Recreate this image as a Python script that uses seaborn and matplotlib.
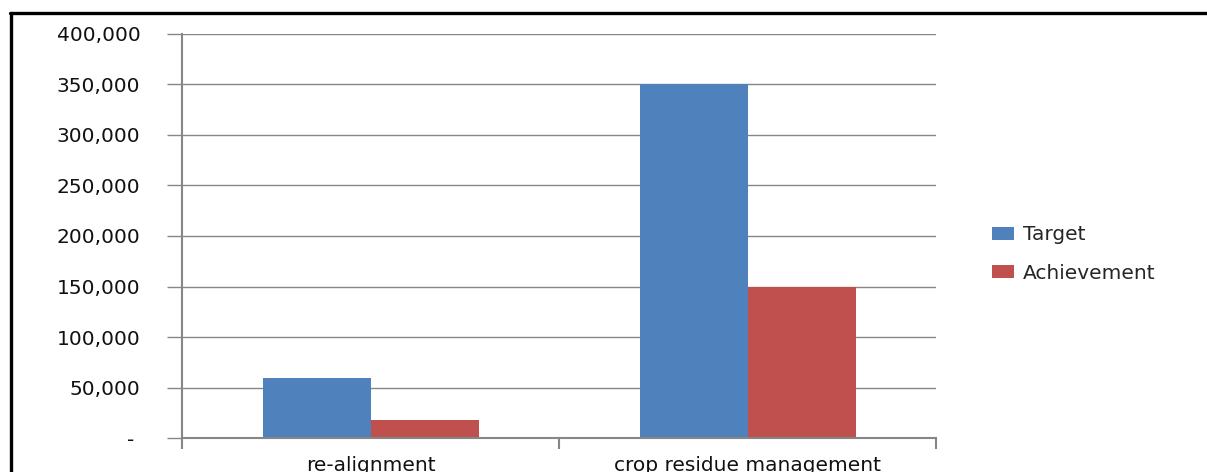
import matplotlib
matplotlib.use("Agg")
import matplotlib.pyplot as plt
from matplotlib.lines import Line2D
from matplotlib.ticker import FuncFormatter, MultipleLocator
import pandas as pd
import seaborn as sns

# Programme components and their physical progress
categories = ["re-alignment", "crop residue management"]
series_names = ["Target", "Achievement"]
target = [59500, 350000]
achievement = [18000, 150000]
colors = ["#4F81BD", "#C0504D"]

df = pd.DataFrame({
    "component": categories * 2,
    "series": [series_names[0]] * len(categories) + [series_names[1]] * len(categories),
    "value": target + achievement,
})

sns.set_theme(style="white")
plt.rcParams["font.family"] = ["DejaVu Sans"]

grid_color = "#868686"
fs = 14.5

fig = plt.figure(figsize=(12.07, 4.72), dpi=100)
ax = fig.add_axes([0.1508, 0.0720, 0.7755 - 0.1508, 0.928 - 0.0720])

sns.barplot(data=df, x="component", y="value", hue="series",
            palette=colors, width=0.573, gap=0, saturation=1,
            linewidth=0, ax=ax, legend=False)

ax.set_ylim(0, 400000)
ax.set_xlim(-0.5, 1.5)
ax.yaxis.set_major_locator(MultipleLocator(50000))
ax.yaxis.set_major_formatter(
    FuncFormatter(lambda v, p: "- " if v == 0 else f"{int(v):,}"))
ax.yaxis.grid(True, color=grid_color, linewidth=1.0)
ax.set_axisbelow(True)
ax.set_xlabel("")
ax.set_ylabel("")

# category boundary ticks on the x axis, labels in between
ax.set_xticks([-0.5, 0.5, 1.5])
ax.set_xticklabels([])
ax.set_xticks([0, 1], minor=True)
ax.set_xticklabels(categories, minor=True)
ax.tick_params(axis="x", which="major", direction="out", length=8,
               width=1.5, color=grid_color, bottom=True)
ax.tick_params(axis="x", which="minor", length=0, pad=13,
               labelsize=fs, labelcolor="#111111")
ax.tick_params(axis="y", direction="out", length=11, width=1.0,
               color=grid_color, left=True, pad=19,
               labelsize=fs, labelcolor="#111111")

for side in ["top", "right"]:
    ax.spines[side].set_visible(False)
for side in ["left", "bottom"]:
    ax.spines[side].set_visible(True)
    ax.spines[side].set_color(grid_color)
    ax.spines[side].set_linewidth(1.5)

handles = [plt.Rectangle((0, 0), 1, 1, facecolor=c, edgecolor="none") for c in colors]
fig.legend(handles, series_names, loc="center left",
           bbox_to_anchor=(0.815, 0.462), frameon=False, fontsize=fs,
           handlelength=1.1, handleheight=0.6, handletextpad=0.45,
           labelspacing=0.95, borderaxespad=0)

# outer chart frame (left and top edges)
fig.add_artist(Line2D([0.0095, 0.0095], [-0.1, 0.9714], transform=fig.transFigure,
                      color="black", linewidth=2.4))
fig.add_artist(Line2D([0.0083, 1.1], [0.9714, 0.9714], transform=fig.transFigure,
                      color="black", linewidth=2.4))

fig.savefig("out.png", dpi=100, facecolor="white")
